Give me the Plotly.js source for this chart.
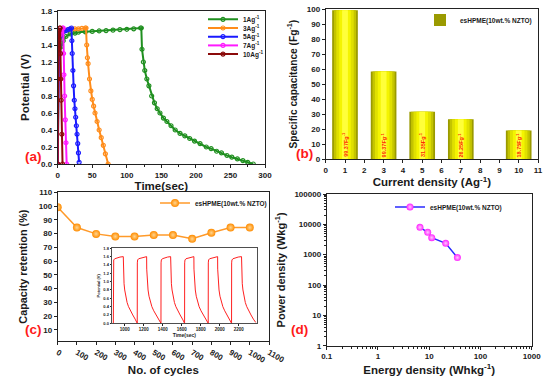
<!DOCTYPE html>
<html><head><meta charset="utf-8">
<script src="https://cdn.plot.ly/plotly-3.0.1.min.js"></script>
<style>html,body{margin:0;padding:0;background:#fff}#chart{width:554px;height:379px}</style>
</head><body><div id="chart"></div>
<script>
// ---------- Panel (a): GCD curves ----------
const t1A = [0,1,3,5,8,12,18,25,30,40,50,60,70,80,90,100,110,120,121,122,124,126,129,132,136,140,144,148,153,158,164,170,177,184,191,198,206,215,222,230,237,245,252,260,268,275,283];
const v1A = [0,1.1,1.3,1.38,1.45,1.5,1.53,1.54,1.55,1.555,1.56,1.565,1.57,1.575,1.58,1.585,1.59,1.6,1.6,1.35,1.2,1.1,1.0,0.92,0.8,0.72,0.65,0.6,0.54,0.5,0.45,0.4,0.36,0.33,0.3,0.27,0.24,0.2,0.18,0.15,0.13,0.1,0.08,0.06,0.04,0.02,0];
const t3A = [0,1,2,4,6,10,15,20,25,30,35,40,41,42,43,44,46,48,50,52,54,57,60,63,66,69,73];
const v3A = [0,1.2,1.4,1.5,1.54,1.57,1.58,1.585,1.59,1.59,1.595,1.6,1.6,1.4,1.25,1.18,1.0,0.86,0.76,0.68,0.6,0.5,0.4,0.31,0.22,0.12,0];
const t5A = [0,1,2,4,6,9,12,15,18,20,20.5,21,22,23,24,25,26,27,28,29,30,31];
const v5A = [0,1.2,1.4,1.5,1.54,1.56,1.57,1.58,1.59,1.6,1.45,1.3,1.1,0.92,0.75,0.65,0.55,0.45,0.35,0.24,0.13,0.02];
const t7A = [0,0.5,1,2,3,4,5,6,7,8,8.5,9,10,11,12,13];
const v7A = [0,1.0,1.3,1.45,1.52,1.55,1.57,1.59,1.6,1.6,1.3,1.05,0.8,0.52,0.25,0];
const t10A = [0,0.3,0.6,1,2,3,3.5,4,4.5,5,6,7];
const v10A = [0,1.0,1.35,1.5,1.57,1.6,1.6,1.3,1.0,0.75,0.35,0];
const gcdNames = ['1Ag<sup>-1</sup>','3Ag<sup>-1</sup>','5Ag<sup>-1</sup>','7Ag<sup>-1</sup>','10Ag<sup>-1</sup>'];

// ---------- Panel (b): specific capacitance ----------
const currentDensity = [1,3,5,7,10];
const specCap = [99.37,58.5,31.5,26.5,19];
const capLabels = ['99.37Fg<sup>-1</sup>','99.37Fg<sup>-1</sup>','31.35Fg<sup>-1</sup>','26.25Fg<sup>-1</sup>','18.75Fg<sup>-1</sup>'];

// ---------- Panel (c): cycling ----------
const cycles = [0,100,200,300,400,500,600,700,800,900,1000];
const retention = [99.2,84.4,79.8,77.9,77.9,79.0,79.0,76.2,80.6,84.4,84.4];
const insetT = [879,880,883,894,919,949,984,985,988,992,999,1009,1024,1039,1059,1084,1109,1129,
  1131,1132,1135,1146,1171,1201,1230,1231,1234,1238,1245,1255,1270,1285,1305,1330,1355,1378,
  1381,1382,1385,1396,1421,1451,1483,1484,1487,1491,1498,1508,1523,1538,1558,1583,1608,1628,
  1630,1631,1634,1645,1670,1700,1728,1729,1732,1736,1743,1753,1768,1783,1803,1828,1853,1876,
  1879,1880,1883,1894,1919,1949,1978,1979,1982,1986,1993,2003,2018,2033,2053,2078,2103,2123,
  2125,2126,2129,2140,2165,2195,2230,2231,2234,2238,2245,2255,2270,2285,2305,2330,2355,2380];
const insetV = [0,1.45,1.52,1.55,1.57,1.59,1.6,1.3,1.1,0.95,0.8,0.65,0.5,0.4,0.3,0.2,0.1,0,
  0,1.45,1.52,1.55,1.57,1.59,1.6,1.3,1.1,0.95,0.8,0.65,0.5,0.4,0.3,0.2,0.1,0,
  0,1.45,1.52,1.55,1.57,1.59,1.6,1.3,1.1,0.95,0.8,0.65,0.5,0.4,0.3,0.2,0.1,0,
  0,1.45,1.52,1.55,1.57,1.59,1.6,1.3,1.1,0.95,0.8,0.65,0.5,0.4,0.3,0.2,0.1,0,
  0,1.45,1.52,1.55,1.57,1.59,1.6,1.3,1.1,0.95,0.8,0.65,0.5,0.4,0.3,0.2,0.1,0,
  0,1.45,1.52,1.55,1.57,1.59,1.6,1.3,1.1,0.95,0.8,0.65,0.5,0.4,0.3,0.2,0.1,0.02];

// ---------- Panel (d): Ragone ----------
const energyDensity = [6.6,9.35,11.2,21,35.5];
const powerDensity = [7960,5450,3640,2370,800];
const powerTicks = [1,10,100,1000,10000,100000];
const powerTickText = ['1','10','100','1000','10000','100000'];

const seriesName = 'esHPME(10wt.% NZTO)';

const W = 554, H = 379;
const px = x => x / W, py = y => 1 - y / H;
const F = 'Liberation Sans, Arial, sans-serif';
const fnt = (s, c) => ({family: F, size: s, weight: 'bold', color: c || '#1a1a1a'});

const axBase = {showline: true, linecolor: '#222', linewidth: 1, mirror: true, ticks: 'outside', ticklen: 3,
  tickwidth: 1, tickcolor: '#222', showgrid: false, zeroline: false, tickfont: fnt(8), automargin: false};

const gcd = [[t1A,v1A,'#1f8f1f'],[t3A,v3A,'#ff8c1a'],[t5A,v5A,'#1a1aff'],[t7A,v7A,'#ff1aff'],[t10A,v10A,'#8b0a0a']];
const traces = [];
gcd.forEach((g, i) => {
  traces.push({x: g[0], y: g[1], type: 'scatter', mode: 'lines+markers', xaxis: 'x', yaxis: 'y',
    name: gcdNames[i], legend: i === 0 ? 'legend' : 'legend' + (i + 1),
    line: {color: g[2], width: 2}, marker: {symbol: 'circle-open', size: 4, color: g[2], line: {width: 1.2}}});
});

// bars with layered widths to mimic the shaded look
const barLayers = [[1.33,'#9a9a00'],[1.15,'#c4c400'],[0.9,'#e0e000'],[0.6,'#f4f400'],[0.3,'#ffff3a']];
barLayers.forEach((b, i) => {
  traces.push({x: currentDensity, y: specCap, type: 'bar', width: b[0], xaxis: 'x2', yaxis: 'y2',
    marker: {color: b[1], line: {width: 0}}, name: seriesName, showlegend: i === 0, legend: 'legend6', hoverinfo: 'skip'});
});

traces.push({x: cycles, y: retention, type: 'scatter', mode: 'lines+markers', xaxis: 'x3', yaxis: 'y3',
  name: seriesName, legend: 'legend7', line: {color: '#ff9a2a', width: 1.5},
  marker: {size: 8, color: '#ff8c00', gradient: {type: 'radial', color: '#ffd590'}, line: {width: 0}}});

traces.push({x: energyDensity, y: powerDensity, type: 'scatter', mode: 'lines+markers', xaxis: 'x4', yaxis: 'y4',
  name: seriesName, legend: 'legend8', line: {color: '#2a2aff', width: 1.5},
  marker: {size: 7, color: '#ff22ff', gradient: {type: 'radial', color: '#ffc8ff'}, line: {width: 0}}});

traces.push({x: insetT, y: insetV, type: 'scatter', mode: 'lines', xaxis: 'x5', yaxis: 'y5',
  showlegend: false, line: {color: '#ff2020', width: 1}});

const legendBase = (x, y) => ({x: px(x), y: py(y), xanchor: 'left', yanchor: 'middle', bgcolor: 'rgba(0,0,0,0)',
  borderwidth: 0, font: fnt(6.5), itemwidth: 30, tracegroupgap: 0});

const layout = {
  width: W, height: H, margin: {l: 0, r: 0, t: 0, b: 0}, paper_bgcolor: '#fff', plot_bgcolor: '#fff',
  barmode: 'overlay', showlegend: true,
  xaxis: Object.assign({}, axBase, {domain: [px(57.7), px(265)], anchor: 'y', range: [0, 300], dtick: 50,
    minor: {ticks: 'outside', ticklen: 2, dtick: 25, tickcolor: '#222'},
    title: {text: 'Time(sec)', font: fnt(11.5), standoff: 3}}),
  yaxis: Object.assign({}, axBase, {domain: [py(164), py(11)], anchor: 'x', range: [0, 1.8], dtick: 0.2, tickformat: '.1f',
    title: {text: 'Potential (V)', font: fnt(11.5), standoff: 8}}),
  xaxis2: Object.assign({}, axBase, {domain: [px(325.7), px(538)], anchor: 'y2', range: [0, 11], dtick: 1,
    title: {text: 'Current density (Ag<sup>-1</sup>)', font: fnt(11.5), standoff: 3}}),
  yaxis2: Object.assign({}, axBase, {domain: [py(159), py(9.3)], anchor: 'x2', range: [0, 100], dtick: 10,
    title: {text: 'Specific capacitance (Fg<sup>-1</sup>)', font: fnt(10.2), standoff: 7}}),
  xaxis3: Object.assign({}, axBase, {domain: [px(57.7), px(269)], anchor: 'y3', range: [0, 1100], dtick: 100,
    title: {text: 'No. of cycles', font: fnt(11.5), standoff: 1}}),
  yaxis3: Object.assign({}, axBase, {domain: [py(341), py(192.3)], anchor: 'x3', range: [2, 110], tick0: 10, dtick: 10,
    title: {text: 'Capacity retention (%)', font: fnt(10.8), standoff: 8}}),
  xaxis4: Object.assign({}, axBase, {domain: [px(326.7), px(531.7)], anchor: 'y4', type: 'log', range: [-1, 3], dtick: 1,
    exponentformat: 'none', minor: {ticks: 'outside', ticklen: 2, dtick: 'D1', tickcolor: '#222'},
    title: {text: 'Energy density (Whkg<sup>-1</sup>)', font: fnt(11.5), standoff: 5}}),
  yaxis4: Object.assign({}, axBase, {domain: [py(345.7), py(194)], anchor: 'x4', type: 'log', range: [0, 5],
    tickmode: 'array', tickvals: powerTicks, ticktext: powerTickText,
    minor: {ticks: 'outside', ticklen: 2, dtick: 'D1', tickcolor: '#222'},
    title: {text: 'Power density (Wkg<sup>-1</sup>)', font: fnt(11), standoff: 6}}),
  xaxis5: Object.assign({}, axBase, {domain: [px(112), px(256.7)], anchor: 'y5', range: [865, 2390], tick0: 1000, dtick: 200,
    ticklen: 1.5, tickfont: fnt(4.5), linewidth: 0.8, title: {text: 'Time(sec)', font: fnt(5), standoff: 1}}),
  yaxis5: Object.assign({}, axBase, {domain: [py(323.3), py(248.3)], anchor: 'x5', range: [0, 1.8], dtick: 0.2, tickformat: '.1f',
    ticklen: 1.5, tickfont: fnt(4), linewidth: 0.8, title: {text: 'Potential (V)', font: fnt(4), standoff: 2}}),
  legend: legendBase(203, 19.3), legend2: legendBase(203, 28), legend3: legendBase(203, 36.7),
  legend4: legendBase(203, 45.4), legend5: legendBase(203, 54.1),
  legend6: legendBase(420, 20), legend7: legendBase(155, 203), legend8: legendBase(390, 207),
  annotations: [
    {text: '(a)', x: px(22.7), y: py(156.7), xref: 'paper', yref: 'paper', showarrow: false, font: fnt(13.5, '#ff1a1a')},
    {text: '(b)', x: px(304), y: py(154), xref: 'paper', yref: 'paper', showarrow: false, font: fnt(13.5, '#ff1a1a')},
    {text: '(c)', x: px(22.7), y: py(339), xref: 'paper', yref: 'paper', showarrow: false, font: fnt(13.5, '#ff1a1a')},
    {text: '(d)', x: px(299), y: py(339), xref: 'paper', yref: 'paper', showarrow: false, font: fnt(13.5, '#ff1a1a')}
  ]
};
currentDensity.forEach((c, i) => {
  layout.annotations.push({text: capLabels[i], x: c, y: 9.5, xref: 'x2', yref: 'y2', showarrow: false,
    textangle: -90, font: fnt(5.5, '#ff2a00')});
});

Plotly.newPlot('chart', traces, layout, {staticPlot: true, displayModeBar: false});
</script></body></html>
